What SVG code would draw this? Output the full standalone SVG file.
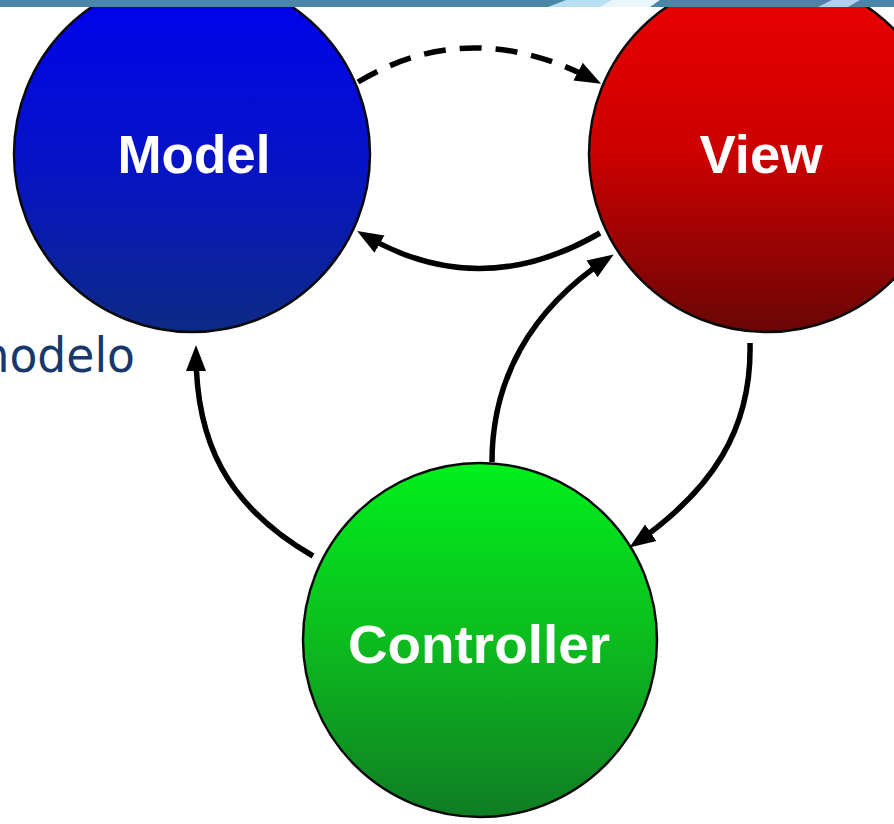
<svg xmlns="http://www.w3.org/2000/svg" width="894" height="824" viewBox="0 0 894 824">
  <style>
    .node-circle { stroke: #0a0a0a; stroke-width: 2.5; }
    .node-label { font-family: "Liberation Sans", Arial, sans-serif; font-weight: bold; font-size: 54px; fill: #ffffff; text-anchor: middle; }
    .link { fill: none; stroke: #000; stroke-width: 5.5; }
    .dashed { stroke-dasharray: 22 14; }
    .caption { font-family: "DejaVu Sans", Verdana, sans-serif; font-size: 48px; fill: #17386a; }
  </style>
  <defs>
    <linearGradient id="gradBlue" x1="0" y1="0" x2="0" y2="1">
      <stop offset="0" stop-color="#0000f0"/>
      <stop offset="0.55" stop-color="#0714c4"/>
      <stop offset="1" stop-color="#0d2a86"/>
    </linearGradient>
    <linearGradient id="gradRed" x1="0" y1="0" x2="0" y2="1">
      <stop offset="0" stop-color="#ec0000"/>
      <stop offset="0.5" stop-color="#cc0000"/>
      <stop offset="1" stop-color="#6a0606"/>
    </linearGradient>
    <linearGradient id="gradGreen" x1="0" y1="0" x2="0" y2="1">
      <stop offset="0" stop-color="#00f01c"/>
      <stop offset="0.5" stop-color="#0cbc1e"/>
      <stop offset="1" stop-color="#0f7d24"/>
    </linearGradient>
    <marker id="arrow" viewBox="0 0 26 22" refX="18" refY="11" markerWidth="26" markerHeight="22" markerUnits="userSpaceOnUse" orient="auto">
      <path d="M0,1 L26,11 L0,21 Z" fill="#000"/>
    </marker>
  </defs>

  <rect x="0" y="0" width="894" height="824" fill="#ffffff"/>

  <!-- nodes -->
  <g id="model">
    <circle class="node-circle" cx="192" cy="154" r="178" fill="url(#gradBlue)"/>
    <text class="node-label" x="194" y="173" textLength="153" lengthAdjust="spacingAndGlyphs">Model</text>
  </g>
  <g id="view">
    <circle class="node-circle" cx="767" cy="154" r="178" fill="url(#gradRed)"/>
    <text class="node-label" x="761" y="173" textLength="123" lengthAdjust="spacingAndGlyphs">View</text>
  </g>
  <g id="controller">
    <circle class="node-circle" cx="480" cy="640" r="177" fill="url(#gradGreen)"/>
    <text class="node-label" x="479" y="663" textLength="262" lengthAdjust="spacingAndGlyphs">Controller</text>
  </g>

  <!-- connectors -->
  <g id="connectors">
    <path class="link dashed" d="M358,82 Q470,15 594,80" marker-end="url(#arrow)"/>
    <path class="link" d="M600,233 Q480,303 364,235" marker-end="url(#arrow)"/>
    <path class="link" d="M492,462 C492,380 530,310 607,259" marker-end="url(#arrow)"/>
    <path class="link" d="M750,343 C752,430 712,490 636,543" marker-end="url(#arrow)"/>
    <path class="link" d="M313,556 C225,505 196,440 196,353" marker-end="url(#arrow)"/>
  </g>

  <!-- page header strip -->
  <g id="header">
    <rect x="0" y="0" width="894" height="7" fill="#4a86a7"/>
    <path d="M548,7 L566,0 L640,0 L622,7 Z" fill="#b8e0f4"/>
    <path d="M600,7 L612,0 L660,0 L650,7 Z" fill="#eaf6fc"/>
    <path d="M818,7 L832,0 L860,0 L848,7 Z" fill="#a9d6ee"/>
  </g>

  <text class="caption" x="135" y="372" text-anchor="end" textLength="170" lengthAdjust="spacingAndGlyphs">modelo</text>
</svg>
